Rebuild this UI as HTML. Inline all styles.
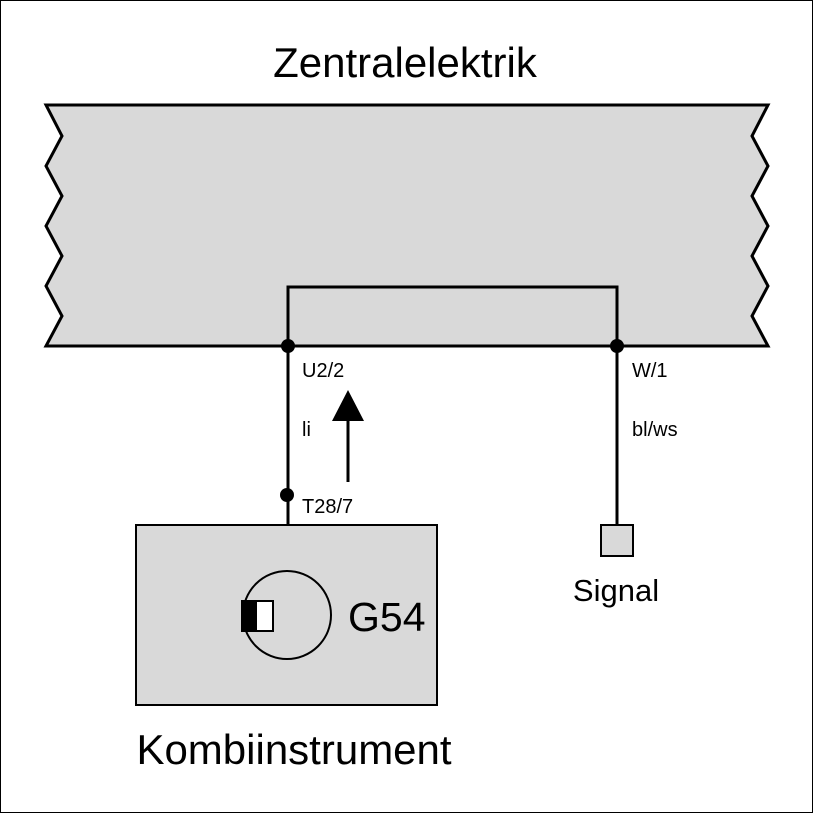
<!DOCTYPE html>
<html><head><meta charset="utf-8"><style>
body{margin:0;background:#fff}
svg{display:block}
text{font-family:"Liberation Sans",sans-serif;fill:#000}
</style></head><body>
<svg width="813" height="813" viewBox="0 0 813 813" xmlns="http://www.w3.org/2000/svg">
<rect x="0.5" y="0.5" width="812" height="812" fill="#fff" stroke="#000" stroke-width="1"/>
<text x="405" y="77" font-size="42" text-anchor="middle">Zentralelektrik</text>
<polygon points="46,105 768,105 752,136 768,166 752,196 768,226 752,256 768,286 752,316 768,346 46,346 62,316 46,286 62,256 46,226 62,196 46,166 62,136" fill="#d9d9d9" stroke="#000" stroke-width="3" stroke-linejoin="miter"/>
<polyline points="288,346 288,287 617,287 617,346" fill="none" stroke="#000" stroke-width="3"/>
<line x1="288" y1="346" x2="288" y2="525" stroke="#000" stroke-width="3"/>
<line x1="617" y1="346" x2="617" y2="525" stroke="#000" stroke-width="3"/>
<circle cx="288" cy="346" r="7" fill="#000"/>
<circle cx="617" cy="346" r="7" fill="#000"/>
<circle cx="287" cy="495" r="7" fill="#000"/>
<line x1="348" y1="415" x2="348" y2="482" stroke="#000" stroke-width="3"/>
<polygon points="348,390 332,421 364,421" fill="#000"/>
<text x="302" y="377" font-size="20">U2/2</text>
<text x="302" y="436" font-size="20">li</text>
<text x="302" y="513" font-size="20">T28/7</text>
<text x="632" y="377" font-size="20">W/1</text>
<text x="632" y="436" font-size="20">bl/ws</text>
<rect x="136" y="525" width="301" height="180" fill="#d9d9d9" stroke="#000" stroke-width="2"/>
<circle cx="287" cy="615" r="44" fill="none" stroke="#000" stroke-width="2"/>
<rect x="242" y="601" width="31" height="30" fill="#fff" stroke="#000" stroke-width="2"/>
<rect x="242" y="601" width="15" height="30" fill="#000"/>
<text x="348" y="631" font-size="41">G54</text>
<rect x="601" y="525" width="32" height="31" fill="#d9d9d9" stroke="#000" stroke-width="2"/>
<text x="616" y="601" font-size="31" text-anchor="middle">Signal</text>
<text x="294" y="764" font-size="42" text-anchor="middle">Kombiinstrument</text>
</svg>
</body></html>
